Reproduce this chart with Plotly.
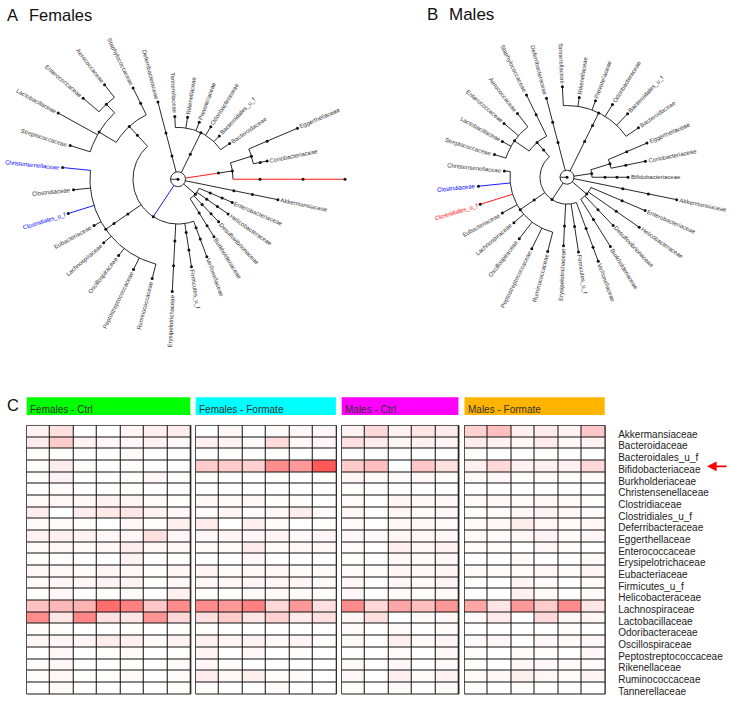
import math
import plotly.graph_objects as go

W, H = 740, 704

# ---------------- data ----------------
leaf_order = ["Bifidobacteriaceae", "Coriobacteriaceae", "Eggerthellaceae", "Bacteroidaceae",
              "Bacteroidales_u_f", "Odoribacteraceae", "Prevotellaceae", "Rikenellaceae",
              "Tannerellaceae", "Deferribacteraceae", "Staphylococcaceae", "Aerococcaceae",
              "Enterococcaceae", "Lactobacillaceae", "Streptococcaceae", "Christensenellaceae",
              "Clostridiaceae", "Clostridiales_u_f", "Eubacteriaceae", "Lachnospiraceae",
              "Oscillospiraceae", "Peptostreptococcaceae", "Ruminococcaceae", "Erysipelotrichaceae",
              "Firmicutes_u_f", "Veillonellaceae", "Burkholderiaceae", "Desulfovibrionaceae",
              "Helicobacteraceae", "Enterobacteriaceae", "Akkermansiaceae"]

families = ["Akkermansiaceae", "Bacteroidaceae", "Bacteroidales_u_f", "Bifidobacteriaceae",
            "Burkholderiaceae", "Christensenellaceae", "Clostridiaceae", "Clostridiales_u_f",
            "Deferribacteraceae", "Eggerthellaceae", "Enterococcaceae", "Erysipelotrichaceae",
            "Eubacteriaceae", "Firmicutes_u_f", "Helicobacteraceae", "Lachnospiraceae",
            "Lactobacillaceae", "Odoribacteraceae", "Oscillospiraceae", "Peptostreptococcaceae",
            "Rikenellaceae", "Ruminococcaceae", "Tannerellaceae"]

groups = ["Females - Ctrl", "Females - Formate", "Males - Ctrl", "Males - Formate"]
group_colors = ["#00FF00", "#00FFFF", "#FF00FF", "#FFB400"]

females_ctrl = [
    [0.05, 0.12, 0.00, 0.00, 0.04, 0.06, 0.07],
    [0.08, 0.20, 0.05, 0.03, 0.03, 0.05, 0.03],
    [0.01, 0.01, 0.00, 0.00, 0.02, 0.00, 0.00],
    [0.01, 0.07, 0.01, 0.00, 0.01, 0.00, 0.01],
    [0.01, 0.05, 0.00, 0.00, 0.01, 0.03, 0.01],
    [0.00, 0.02, 0.00, 0.00, 0.01, 0.00, 0.00],
    [0.02, 0.03, 0.03, 0.05, 0.04, 0.02, 0.01],
    [0.07, 0.00, 0.07, 0.09, 0.10, 0.05, 0.03],
    [0.02, 0.02, 0.01, 0.00, 0.03, 0.01, 0.06],
    [0.05, 0.06, 0.05, 0.03, 0.04, 0.12, 0.04],
    [0.02, 0.03, 0.02, 0.03, 0.07, 0.03, 0.03],
    [0.01, 0.01, 0.00, 0.00, 0.05, 0.00, 0.01],
    [0.03, 0.03, 0.02, 0.04, 0.03, 0.01, 0.04],
    [0.02, 0.04, 0.03, 0.05, 0.05, 0.01, 0.03],
    [0.01, 0.03, 0.00, 0.01, 0.02, 0.00, 0.06],
    [0.24, 0.28, 0.30, 0.57, 0.50, 0.22, 0.45],
    [0.45, 0.10, 0.47, 0.12, 0.10, 0.42, 0.15],
    [0.01, 0.01, 0.00, 0.00, 0.01, 0.00, 0.01],
    [0.03, 0.04, 0.04, 0.07, 0.06, 0.02, 0.05],
    [0.00, 0.03, 0.00, 0.01, 0.02, 0.00, 0.01],
    [0.01, 0.03, 0.00, 0.00, 0.01, 0.00, 0.02],
    [0.01, 0.03, 0.01, 0.01, 0.02, 0.00, 0.02],
    [0.00, 0.02, 0.00, 0.00, 0.00, 0.00, 0.01],
]
females_formate = [
    [0.00, 0.03, 0.00, 0.02, 0.03, 0.03],
    [0.06, 0.05, 0.02, 0.14, 0.03, 0.04],
    [0.00, 0.01, 0.00, 0.01, 0.00, 0.00],
    [0.20, 0.20, 0.18, 0.45, 0.40, 0.65],
    [0.01, 0.00, 0.00, 0.01, 0.00, 0.01],
    [0.00, 0.00, 0.00, 0.00, 0.00, 0.00],
    [0.03, 0.02, 0.03, 0.01, 0.01, 0.00],
    [0.02, 0.04, 0.02, 0.03, 0.07, 0.02],
    [0.07, 0.00, 0.06, 0.02, 0.00, 0.01],
    [0.03, 0.04, 0.03, 0.04, 0.02, 0.04],
    [0.02, 0.02, 0.08, 0.02, 0.03, 0.03],
    [0.00, 0.00, 0.03, 0.00, 0.00, 0.00],
    [0.04, 0.02, 0.03, 0.03, 0.02, 0.02],
    [0.03, 0.03, 0.04, 0.03, 0.04, 0.02],
    [0.01, 0.01, 0.02, 0.02, 0.02, 0.01],
    [0.45, 0.40, 0.50, 0.15, 0.40, 0.12],
    [0.12, 0.20, 0.10, 0.18, 0.08, 0.12],
    [0.01, 0.00, 0.00, 0.00, 0.00, 0.00],
    [0.06, 0.04, 0.05, 0.02, 0.04, 0.01],
    [0.04, 0.00, 0.03, 0.00, 0.01, 0.00],
    [0.03, 0.01, 0.00, 0.00, 0.00, 0.00],
    [0.07, 0.03, 0.06, 0.01, 0.02, 0.00],
    [0.01, 0.00, 0.00, 0.02, 0.00, 0.00],
]
males_ctrl = [
    [0.05, 0.15, 0.05, 0.10, 0.08],
    [0.12, 0.08, 0.04, 0.06, 0.04],
    [0.00, 0.00, 0.00, 0.00, 0.00],
    [0.20, 0.25, 0.00, 0.22, 0.12],
    [0.04, 0.02, 0.02, 0.03, 0.01],
    [0.01, 0.00, 0.00, 0.00, 0.00],
    [0.02, 0.00, 0.04, 0.03, 0.03],
    [0.03, 0.00, 0.04, 0.02, 0.03],
    [0.02, 0.00, 0.03, 0.03, 0.02],
    [0.03, 0.02, 0.04, 0.04, 0.03],
    [0.02, 0.00, 0.06, 0.03, 0.05],
    [0.01, 0.00, 0.03, 0.02, 0.03],
    [0.02, 0.01, 0.04, 0.03, 0.04],
    [0.03, 0.00, 0.03, 0.02, 0.04],
    [0.03, 0.00, 0.02, 0.01, 0.02],
    [0.45, 0.15, 0.35, 0.25, 0.40],
    [0.03, 0.12, 0.00, 0.02, 0.03],
    [0.02, 0.00, 0.02, 0.00, 0.02],
    [0.02, 0.00, 0.06, 0.02, 0.04],
    [0.01, 0.00, 0.02, 0.00, 0.03],
    [0.02, 0.00, 0.03, 0.00, 0.02],
    [0.03, 0.00, 0.06, 0.02, 0.05],
    [0.01, 0.00, 0.02, 0.00, 0.02],
]
males_formate = [
    [0.18, 0.25, 0.06, 0.08, 0.05, 0.22],
    [0.07, 0.05, 0.03, 0.08, 0.03, 0.05],
    [0.01, 0.00, 0.00, 0.01, 0.00, 0.00],
    [0.06, 0.15, 0.05, 0.06, 0.05, 0.15],
    [0.02, 0.03, 0.01, 0.02, 0.01, 0.02],
    [0.00, 0.00, 0.00, 0.00, 0.00, 0.00],
    [0.02, 0.03, 0.02, 0.03, 0.02, 0.01],
    [0.01, 0.02, 0.03, 0.05, 0.03, 0.02],
    [0.02, 0.03, 0.07, 0.03, 0.02, 0.03],
    [0.02, 0.02, 0.03, 0.05, 0.02, 0.04],
    [0.01, 0.01, 0.00, 0.03, 0.01, 0.00],
    [0.00, 0.00, 0.02, 0.00, 0.00, 0.02],
    [0.02, 0.02, 0.02, 0.03, 0.02, 0.04],
    [0.01, 0.00, 0.04, 0.02, 0.00, 0.02],
    [0.00, 0.00, 0.06, 0.02, 0.00, 0.02],
    [0.35, 0.10, 0.40, 0.20, 0.45, 0.10],
    [0.02, 0.08, 0.00, 0.15, 0.03, 0.04],
    [0.00, 0.00, 0.00, 0.00, 0.01, 0.00],
    [0.02, 0.03, 0.00, 0.03, 0.02, 0.03],
    [0.01, 0.00, 0.02, 0.01, 0.00, 0.03],
    [0.01, 0.00, 0.03, 0.03, 0.02, 0.02],
    [0.02, 0.03, 0.06, 0.03, 0.02, 0.04],
    [0.01, 0.00, 0.01, 0.00, 0.00, 0.00],
]
group_values = [females_ctrl, females_formate, males_ctrl, males_formate]

RED, BLUE = "#FF0000", "#0000FF"


# ---------------- tree builders (radius of each node from the centre) ----------------
def N(r, *kids, col=None):
    return {"r": r, "kids": list(kids), "col": col}


def L(name, *radii, col=None):
    node = {"r": radii[-1], "kids": [], "name": name, "col": col}
    for r in reversed(radii[:-1]):
        node = {"r": r, "kids": [node], "col": col}
    return node


def C(radii, node, col=None):
    for r in reversed(radii):
        node = {"r": r, "kids": [node], "col": col}
    return node


females_tree = N(7.5,
    C([41], N(55,
        L("Bifidobacteriaceae", 82, 125, 167, col=RED),
        N(77, L("Coriobacteriaceae", 84, 91), L("Eggerthellaceae", 97, 130))), col=RED),
    C([28], N(52, L("Bacteroidaceae", 63), L("Bacteroidales_u_f", 60), L("Odoribacteraceae", 62),
                L("Prevotellaceae", 61), L("Rikenellaceae", 63), L("Tannerellaceae", 63))),
    L("Deferribacteraceae", 24, 48, 80),
    N(45,
      C([60], N(72,
          L("Staphylococcaceae", 85, 102),
          N(92, N(104, L("Aerococcaceae", 120), L("Enterococcaceae", 125)),
            L("Lactobacillaceae", 137), L("Streptococcaceae", 113)))),
      C([61, 78], N(88,
          L("Christensenellaceae", 116, col=BLUE), L("Clostridiaceae", 105),
          L("Clostridiales_u_f", 115, col=BLUE), L("Eubacteriaceae", 96),
          L("Lachnospiraceae", 98), L("Oscillospiraceae", 97),
          L("Peptostreptococcaceae", 101), L("Ruminococcaceae", 103))),
      L("Erysipelotrichaceae", 62, 87, 113),
      L("Firmicutes_u_f", 54, 72, 89),
      L("Veillonellaceae", 52, 64, 83),
      col=BLUE),
    N(23, L("Burkholderiaceae", 40, 55, 68), L("Desulfovibrionaceae", 35, 48, 59),
          L("Helicobacteraceae", 35, 48, 61), L("Enterobacteriaceae", 35, 48, 59)),
    L("Akkermansiaceae", 57, 76, 102),
)

males_tree = N(7,
    N(25, L("Bifidobacteriaceae", 38, 50, 61),
          N(45, L("Coriobacteriaceae", 60, 80), L("Eggerthellaceae", 65, 87))),
    C([40, 58], N(72, L("Bacteroidaceae", 87), L("Bacteroidales_u_f", 88), L("Odoribacteraceae", 86),
                  L("Prevotellaceae", 82), L("Rikenellaceae", 81), L("Tannerellaceae", 91))),
    L("Deferribacteraceae", 36, 57, 82),
    N(27,
      C([36], N(46,
          L("Staphylococcaceae", 70, 92),
          N(64, L("Aerococcaceae", 81), L("Enterococcaceae", 83),
                L("Lactobacillaceae", 74), L("Streptococcaceae", 76)))),
      C([40], N(57,
          L("Christensenellaceae", 63), L("Clostridiaceae", 89, col=BLUE),
          L("Clostridiales_u_f", 91, col=RED), L("Eubacteriaceae", 74),
          L("Lachnospiraceae", 70), L("Oscillospiraceae", 78),
          L("Peptostreptococcaceae", 80), L("Ruminococcaceae", 77))),
      L("Erysipelotrichaceae", 49, 69),
      L("Firmicutes_u_f", 50, 76),
      L("Veillonellaceae", 55, 75, 90)),
    N(26, L("Burkholderiaceae", 50, 82), L("Desulfovibrionaceae", 45, 67),
          L("Helicobacteraceae", 60, 88), L("Enterobacteriaceae", 60, 85)),
    L("Akkermansiaceae", 57, 83, 112),
)

# Arial / Liberation Sans advance widths (1/1000 em)
CW = {c: 556 for c in "abdeghnopqu_"}
CW.update({"c": 500, "k": 500, "s": 500, "v": 500, "x": 500, "y": 500, "z": 500, "f": 278,
           "t": 278, "i": 222, "j": 222, "l": 222, "m": 833, "r": 333, "w": 722, " ": 278,
           "-": 333, "A": 667, "B": 667, "C": 722, "D": 722, "E": 667, "F": 611, "H": 722,
           "L": 556, "O": 778, "P": 667, "R": 722, "S": 667, "T": 611, "V": 667})


def text_w(s, size):
    return sum(CW.get(ch, 556) for ch in s) / 1000.0 * size


def place(node):
    if not node["kids"]:
        node["a"] = 2 * math.pi * leaf_order.index(node["name"]) / len(leaf_order)
    else:
        for k in node["kids"]:
            place(k)
        node["a"] = sum(k["a"] for k in node["kids"]) / len(node["kids"])


def pol(r, a):
    return r * math.cos(a), r * math.sin(a)


def arc_pts(r, a0, a1, n=None):
    n = n or max(4, int(abs(a1 - a0) * r / 2) + 2)
    return [pol(r, a0 + (a1 - a0) * t / (n - 1)) for t in range(n)]


def tree_traces(tree, xa, ya):
    place(tree)
    segs = {"#111111": ([], []), RED: ([], []), BLUE: ([], [])}
    dots = ([], [])
    leaves = []

    def add(col, pts):
        xs, ys = segs[col]
        for p in pts:
            xs.append(p[0]); ys.append(p[1])
        xs.append(None); ys.append(None)

    def walk(node, parent):
        if parent is not None:
            add(node["col"] or "#111111", [pol(parent["r"], node["a"]), pol(node["r"], node["a"])])
            x, y = pol(node["r"], node["a"])
            dots[0].append(x); dots[1].append(y)
        if len(node["kids"]) >= 2 and parent is not None:
            angs = [k["a"] for k in node["kids"]]
            add("#111111", arc_pts(node["r"], min(angs), max(angs)))
        if not node["kids"]:
            leaves.append(node)
        for k in node["kids"]:
            walk(k, node)

    walk(tree, None)
    add("#111111", arc_pts(tree["r"], 0, 2 * math.pi, 60))
    add("#111111", [(0, 0), pol(tree["r"], tree["a"])])
    dots[0].append(0); dots[1].append(0)

    traces = []
    for col, (xs, ys) in segs.items():
        traces.append(go.Scatter(x=xs, y=ys, mode="lines", line=dict(color=col, width=0.9),
                                 xaxis=xa, yaxis=ya, hoverinfo="skip", showlegend=False))
    traces.append(go.Scatter(x=dots[0], y=dots[1], mode="markers",
                             marker=dict(color="#111111", size=3), xaxis=xa, yaxis=ya,
                             hoverinfo="skip", showlegend=False))
    anns = []
    fs = 6
    for lf in leaves:
        w = text_w(lf["name"], fs)
        d = lf["r"] + 3 + w / 2
        x, y = pol(d, lf["a"])
        deg = math.degrees(lf["a"])
        if deg > 180:
            deg -= 360
        ta = -deg if -90 < deg <= 90 else -(deg - 180)
        if ta > 180:
            ta -= 360
        if ta <= -180:
            ta += 360
        anns.append(dict(x=x, y=y, xref=xa, yref=ya, text=lf["name"], showarrow=False,
                         textangle=ta, xanchor="center", yanchor="middle",
                         font=dict(size=fs, color=(lf["col"] or "#333333"))))
    return traces, anns


fig = go.Figure()
annotations = []
shapes = []

tF, aF = tree_traces(females_tree, "x", "y")
tM, aM = tree_traces(males_tree, "x2", "y2")
for t in tF + tM:
    fig.add_trace(t)
annotations += aF + aM

# ---------------- heatmap panels ----------------
col_w = 23.45
panel_left = [26.7, 195.7, 341.7, 464.5]
hm_top, hm_bot = 427.3, 697.0
colorscale = [[0, "#FFFFFF"], [1, "#FF0000"]]
for gi, (gname, vals) in enumerate(zip(groups, group_values)):
    ncol = len(vals[0])
    x0 = panel_left[gi]
    x1 = x0 + ncol * col_w
    ax = "x%d" % (gi + 3)
    fig.add_trace(go.Heatmap(z=vals, x=list(range(1, ncol + 1)), y=families,
                             colorscale=colorscale, zmin=0, zmax=1, showscale=False,
                             xgap=1, ygap=1, xaxis=ax, yaxis="y3", hoverinfo="skip"))
    fig.layout["xaxis%d" % (gi + 3)] = dict(domain=[x0 / W, x1 / W], anchor="y3", visible=False,
                                           range=[0.5, ncol + 0.5], fixedrange=True)
    shapes.append(dict(type="rect", xref="paper", yref="paper", x0=x0 / W, x1=x1 / W,
                       y0=1 - hm_bot / H, y1=1 - hm_top / H, fillcolor="#111111",
                       line=dict(color="#222222", width=1), layer="below"))
    shapes.append(dict(type="rect", xref="paper", yref="paper", x0=x0 / W, x1=(x1 - 0.5) / W,
                       y0=1 - 416.7 / H, y1=1 - 399 / H, fillcolor=group_colors[gi],
                       line=dict(width=0), layer="below"))
    annotations.append(dict(x=(x0 + 1.5) / W, y=1 - 411.5 / H, xref="paper", yref="paper",
                            text=gname, showarrow=False, xanchor="left", yanchor="middle",
                            font=dict(size=10, color="#333333")))

# arrow pointing at Bifidobacteriaceae
annotations.append(dict(x=707 / W, y="Bifidobacteriaceae", xref="paper", yref="y3", text="",
                        showarrow=True, ax=21, ay=0, arrowhead=2, arrowsize=1.2,
                        arrowwidth=1.6, arrowcolor="#FF0000"))

# panel letters / titles
for txt, px, py, sz in [("A", 5, 15.5, 16.5), ("Females", 27, 15.5, 16.5),
                        ("B", 425, 15, 17), ("Males", 447, 15, 17), ("C", 5, 407, 16.5)]:
    annotations.append(dict(x=px / W, y=1 - py / H, xref="paper", yref="paper", text=txt,
                            showarrow=False, xanchor="left", yanchor="middle",
                            font=dict(size=sz, color="#111111")))

tree_h = 380
fig.update_layout(
    width=W, height=H, margin=dict(l=0, r=0, t=0, b=0),
    paper_bgcolor="white", plot_bgcolor="white", showlegend=False,
    font=dict(family="Liberation Sans, Arial, sans-serif"),
    xaxis=dict(domain=[0, 370 / W], range=[-178, 192], visible=False, fixedrange=True),
    yaxis=dict(domain=[1 - tree_h / H, 1], range=[-(tree_h - 180), 180], visible=False,
               fixedrange=True),
    xaxis2=dict(domain=[370 / W, 1], range=[-(567 - 370), 740 - 567], visible=False,
                fixedrange=True),
    yaxis2=dict(domain=[1 - tree_h / H, 1], range=[-(tree_h - 178), 178], visible=False,
                fixedrange=True),
    yaxis3=dict(domain=[1 - hm_bot / H, 1 - hm_top / H], anchor="x6", side="right",
                type="category", autorange="reversed", showgrid=False, zeroline=False,
                showline=False, ticks="outside", ticklen=10, tickcolor="rgba(0,0,0,0)",
                tickmode="array", tickvals=families, ticktext=families, ticklabelshift=-3,
                tickfont=dict(size=10, color="#222222"), fixedrange=True),
    annotations=annotations, shapes=shapes,
)

fig.write_html("out.html", config={"displayModeBar": False, "staticPlot": True},
               post_script="document.body.style.margin='0';document.body.style.overflow='hidden';")
